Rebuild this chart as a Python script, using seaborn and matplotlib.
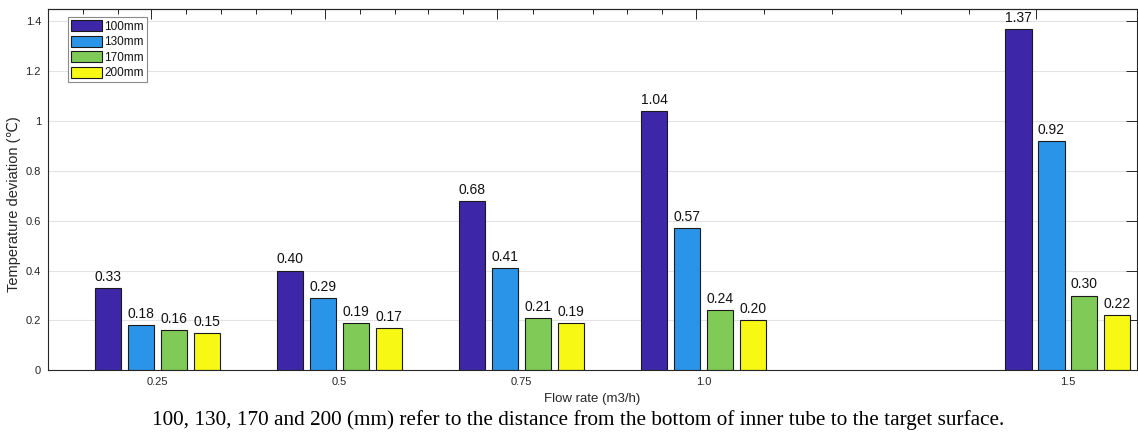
import numpy as np
import pandas as pd
import matplotlib
matplotlib.use("Agg")
import matplotlib.pyplot as plt
import seaborn as sns

# Flow rates (m3/h) and temperature deviation for each nozzle-to-target distance
flow_rates = [0.25, 0.5, 0.75, 1.0, 1.5]
distances = ["100mm", "130mm", "170mm", "200mm"]
dev_100 = [0.33, 0.40, 0.68, 1.04, 1.37]
dev_130 = [0.18, 0.29, 0.41, 0.57, 0.92]
dev_170 = [0.16, 0.19, 0.21, 0.24, 0.30]
dev_200 = [0.15, 0.17, 0.19, 0.20, 0.22]
x_tick_labels = ["0.25", "0.5", "0.75", "1.0", "1.5"]
y_ticks = [0, 0.2, 0.4, 0.6, 0.8, 1.0, 1.2, 1.4]
y_tick_labels = ["0", "0.2", "0.4", "0.6", "0.8", "1", "1.2", "1.4"]
x_minor_ticks = [0.15, 0.35, 0.4, 0.6, 0.65, 0.9, 1.1, 1.2, 1.3, 1.4]
top_major_ticks = [0.242, 0.480, 0.717, 0.990, 1.457]
top_minor_ticks = [0.148, 0.196, 0.290, 0.338, 0.385, 0.433, 0.528, 0.576,
                   0.622, 0.670, 0.766, 0.848, 0.895, 0.943, 1.083, 1.176,
                   1.271, 1.364]
palette = ["#3D27A8", "#2A95E8", "#80CA57", "#F8F815"]

df = pd.DataFrame({
    "flow": flow_rates * 4,
    "dev": dev_100 + dev_130 + dev_170 + dev_200,
    "dist": [d for d in distances for _ in flow_rates],
})

sns.set_style("white")
plt.rcParams["font.family"] = ["Liberation Sans", "DejaVu Sans"]
text_col = "#262626"

fig = plt.figure(figsize=(11.38, 4.36), dpi=100)
ax = fig.add_axes([48 / 1138, 65.7 / 436, 1089 / 1138, 361.3 / 436])

sns.barplot(data=df, x="flow", y="dev", hue="dist", native_scale=True,
            palette=palette, saturation=1, width=0.724, gap=0.2,
            edgecolor="#1a1a1a", linewidth=0.8, errorbar=None, ax=ax)

for cont in ax.containers:
    ax.bar_label(cont, fmt="%.2f", padding=3, fontsize=10, color="#111111")

ax.set_xlim(0.1, 1.595)
ax.set_ylim(0, 1.45)
ax.set_xticks(flow_rates)
ax.set_xticklabels(x_tick_labels)
ax.set_xticks(x_minor_ticks, minor=True)
ax.set_yticks(y_ticks)
ax.set_yticklabels(y_tick_labels)

ax.yaxis.grid(True, color="#E3E3E3", linewidth=0.8)
ax.set_axisbelow(True)

ax.tick_params(axis="x", which="major", direction="in", length=7.5, width=0.7,
               color=text_col, labelsize=8, labelcolor=text_col, pad=5)
ax.tick_params(axis="x", which="minor", direction="in", length=3.6, width=0.7,
               color=text_col)
ax.tick_params(axis="y", direction="in", length=8, width=0.7, color=text_col,
               labelsize=8, labelcolor=text_col, pad=5, right=True)

top = ax.secondary_xaxis("top")
top.set_xticks(top_major_ticks)
top.set_xticklabels([])
top.set_xticks(top_minor_ticks, minor=True)
top.tick_params(which="major", direction="in", length=7.5, width=0.7, color=text_col)
top.tick_params(which="minor", direction="in", length=3.6, width=0.7, color=text_col)
top.spines["top"].set_color(text_col)
top.spines["top"].set_linewidth(0.8)

for s in ax.spines.values():
    s.set_visible(True)
    s.set_color(text_col)
    s.set_linewidth(0.8)

ax.set_xlabel("Flow rate (m3/h)", fontsize=9.5, color=text_col, labelpad=4)
ax.set_ylabel("Temperature deviation (\u2103)", fontsize=10.5, color=text_col)
ax.yaxis.set_label_coords(-0.0248, 0.46)

leg = ax.legend(loc="upper left", bbox_to_anchor=(0.018, 0.978),
                borderaxespad=0, fontsize=8.5, frameon=True, fancybox=False,
                edgecolor="#8a8a8a", framealpha=1, handlelength=2.7,
                handleheight=1.1, handletextpad=0.15, labelspacing=0.25,
                borderpad=0.25, title=None)
leg.get_frame().set_linewidth(0.8)
for t in leg.get_texts():
    t.set_color("#111111")

fig.text(578 / 1138, 1 - 420 / 436,
         "100, 130, 170 and 200 (mm) refer to the distance from the bottom of "
         "inner tube to the target surface.",
         ha="center", va="center", fontsize=15.3, family="Liberation Serif",
         color="black")

fig.savefig("out.png", dpi=100)
